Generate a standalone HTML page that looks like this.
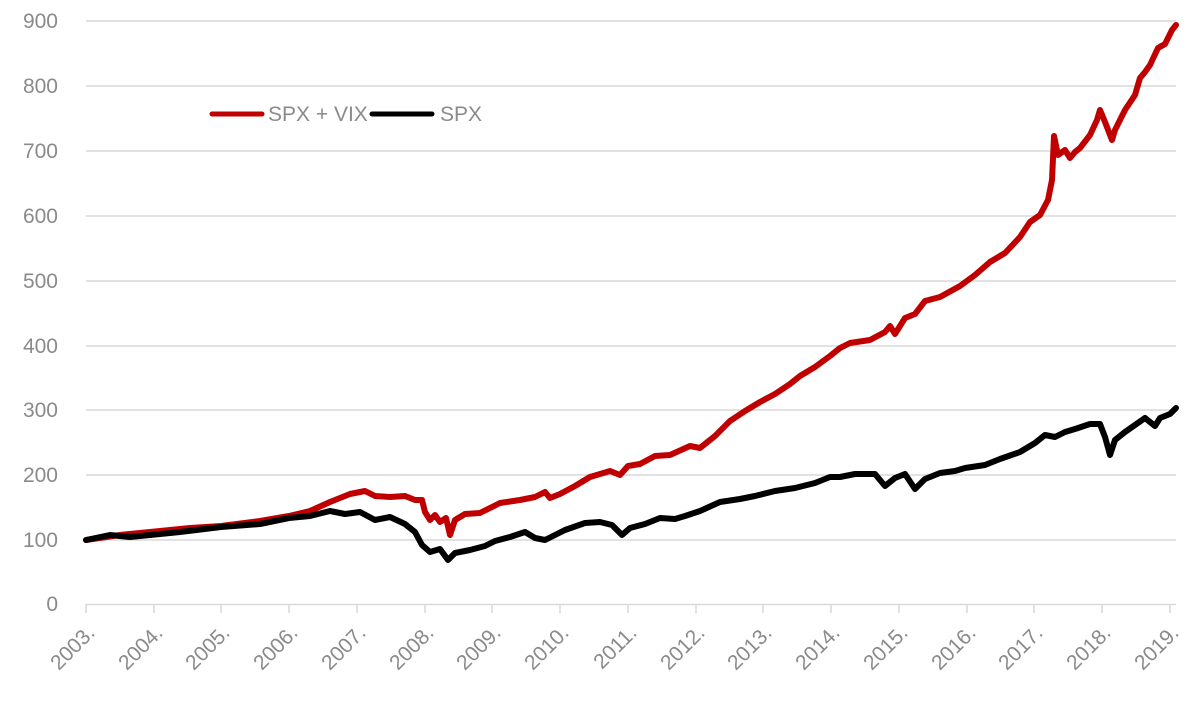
<!DOCTYPE html>
<html><head><meta charset="utf-8"><style>
html,body{margin:0;padding:0;background:#fff;}
svg text{font-family:"Liberation Sans",sans-serif;fill:#8a8a8a;font-size:21px;}
</style></head><body>
<svg width="1202" height="698" viewBox="0 0 1202 698" xmlns="http://www.w3.org/2000/svg">
<g stroke="#d9d9d9" stroke-width="1.5">
<line x1="86" y1="21" x2="1176" y2="21"/><line x1="86" y1="86" x2="1176" y2="86"/>
<line x1="86" y1="151" x2="1176" y2="151"/><line x1="86" y1="216" x2="1176" y2="216"/>
<line x1="86" y1="281" x2="1176" y2="281"/><line x1="86" y1="346" x2="1176" y2="346"/>
<line x1="86" y1="410" x2="1176" y2="410"/><line x1="86" y1="475" x2="1176" y2="475"/>
<line x1="86" y1="540" x2="1176" y2="540"/><line x1="86" y1="604.5" x2="1176" y2="604.5"/>
</g>
<g stroke="#d9d9d9" stroke-width="1.5">
<line x1="86" y1="604" x2="86" y2="613"/><line x1="154" y1="604" x2="154" y2="613"/><line x1="221" y1="604" x2="221" y2="613"/><line x1="289" y1="604" x2="289" y2="613"/><line x1="357" y1="604" x2="357" y2="613"/><line x1="425" y1="604" x2="425" y2="613"/><line x1="492" y1="604" x2="492" y2="613"/><line x1="560" y1="604" x2="560" y2="613"/><line x1="628" y1="604" x2="628" y2="613"/><line x1="696" y1="604" x2="696" y2="613"/><line x1="763" y1="604" x2="763" y2="613"/><line x1="831" y1="604" x2="831" y2="613"/><line x1="899" y1="604" x2="899" y2="613"/><line x1="967" y1="604" x2="967" y2="613"/><line x1="1034" y1="604" x2="1034" y2="613"/><line x1="1102" y1="604" x2="1102" y2="613"/><line x1="1170" y1="604" x2="1170" y2="613"/>
</g>
<g text-anchor="end">
<text x="58" y="28">900</text><text x="58" y="93">800</text><text x="58" y="158">700</text><text x="58" y="223">600</text><text x="58" y="288">500</text><text x="58" y="353">400</text><text x="58" y="417">300</text><text x="58" y="482">200</text><text x="58" y="547">100</text><text x="58" y="611">0</text>
</g>
<g text-anchor="end" style="font-size:22px">
<text transform="translate(96,634) rotate(-45)">2003.</text>
<text transform="translate(164,634) rotate(-45)">2004.</text>
<text transform="translate(231,634) rotate(-45)">2005.</text>
<text transform="translate(299,634) rotate(-45)">2006.</text>
<text transform="translate(367,634) rotate(-45)">2007.</text>
<text transform="translate(435,634) rotate(-45)">2008.</text>
<text transform="translate(502,634) rotate(-45)">2009.</text>
<text transform="translate(570,634) rotate(-45)">2010.</text>
<text transform="translate(638,634) rotate(-45)">2011.</text>
<text transform="translate(706,634) rotate(-45)">2012.</text>
<text transform="translate(773,634) rotate(-45)">2013.</text>
<text transform="translate(841,634) rotate(-45)">2014.</text>
<text transform="translate(909,634) rotate(-45)">2015.</text>
<text transform="translate(977,634) rotate(-45)">2016.</text>
<text transform="translate(1044,634) rotate(-45)">2017.</text>
<text transform="translate(1112,634) rotate(-45)">2018.</text>
<text transform="translate(1180,634) rotate(-45)">2019.</text>
</g>
<polyline fill="none" stroke="#c00000" stroke-width="6" stroke-linejoin="round" stroke-linecap="round" points="86,540 120,535 150,532 190,528 221,526 260,521 289,516 310,511 330,502 350,494 365,491 375,496 390,497 405,496 415,500 422,500 425,512 430,520 435,515 440,522 446,518 450,535 455,520 465,514 480,513 490,508 500,503 520,500 535,497 545,492 550,498 560,494 575,486 590,477 600,474 610,471 620,475 628,466 640,464 655,456 670,455 690,446 700,448 715,436 730,421 745,411 760,402 775,394 790,384 800,376 815,367 830,356 840,348 850,343 870,340 885,332 890,326 895,334 905,318 915,314 925,301 940,297 960,286 975,275 990,262 1005,253 1020,237 1030,222 1040,215 1048,200 1052,180 1054,136 1058,155 1065,150 1070,158 1075,152 1080,148 1090,135 1097,120 1100,110 1105,122 1112,140 1115,130 1125,110 1135,95 1140,78 1145,72 1150,65 1158,48 1165,44 1172,30 1176,25"/>
<polyline fill="none" stroke="#000" stroke-width="6" stroke-linejoin="round" stroke-linecap="round" points="86,540 110,535 130,537 150,535 180,532 221,527 260,524 289,518 310,516 330,511 345,514 360,512 375,520 390,517 405,524 415,532 422,545 430,552 440,549 448,560 455,553 470,550 485,546 495,541 510,537 525,532 535,538 545,540 555,535 565,530 585,523 600,522 612,525 622,535 630,528 645,524 660,518 675,519 685,516 700,511 720,502 740,499 755,496 775,491 795,488 815,483 830,477 840,477 855,474 875,474 885,486 895,478 905,474 915,489 925,479 940,473 955,471 965,468 985,465 1000,459 1020,452 1035,443 1045,435 1055,437 1065,432 1075,429 1090,424 1100,424 1105,437 1110,455 1115,440 1125,432 1135,425 1145,418 1155,426 1160,418 1170,414 1176,408"/>
<line x1="212" y1="114" x2="262" y2="114" stroke="#c00000" stroke-width="5" stroke-linecap="round"/>
<text x="268" y="121">SPX + VIX</text>
<line x1="372" y1="114" x2="432" y2="114" stroke="#000" stroke-width="5" stroke-linecap="round"/>
<text x="440" y="121">SPX</text>
</svg>
</body></html>
